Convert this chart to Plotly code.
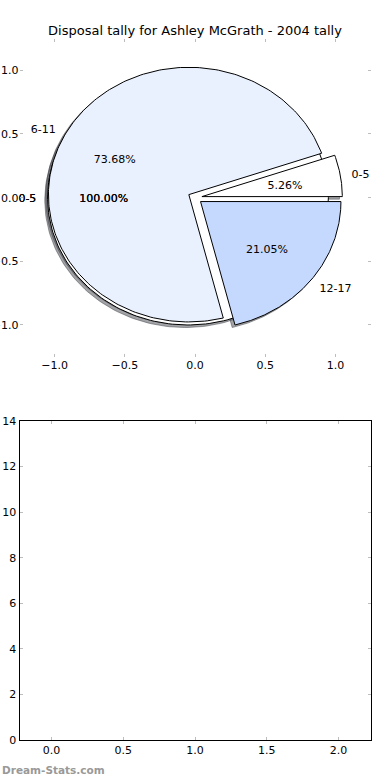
import numpy as np
import plotly.graph_objects as go

# ---------------- data ----------------
chart_title = "Disposal tally for Ashley McGrath - 2004 tally"
slice_labels = ["0-5", "6-11", "12-17"]
slice_values = [1, 14, 4]
slice_colors = ["#FFFFFF", "#E9F0FE", "#C5D8FE"]
overlay_labels = ["0-5"]
overlay_values = [1]
overlay_colors = ["#FFFFFF"]
pie_tick_vals = [-1.0, -0.5, 0.0, 0.5, 1.0]
pie_tick_text = ["\u22121.0", "\u22120.5", "0.0", "0.5", "1.0"]
bottom_x_ticks = [0.0, 0.5, 1.0, 1.5, 2.0]
bottom_y_ticks = [0, 2, 4, 6, 8, 10, 12, 14]
watermark = "Dream-Stats.com"

# ---------------- style ----------------
FONT = "DejaVu Sans"
EXPLODE = 0.05
LABEL_DIST = 1.1
PCT_DIST = 0.6
SHADOW_DX, SHADOW_DY = -0.02, -0.02
TEXT_NUDGE_X = 0.02   # compensate plotly's text gap for side-anchored labels
TEXT_NUDGE_Y = -0.014  # compensate plotly's vertical centering
TICK_GREY = "#bdbdbd"


def pie_geometry(values):
    total = float(sum(values))
    out = []
    start = 0.0
    for v in values:
        frac = v / total
        t1, t2 = 360.0 * start, 360.0 * (start + frac)
        mid = np.radians((t1 + t2) / 2.0)
        cx, cy = EXPLODE * np.cos(mid), EXPLODE * np.sin(mid)
        th = np.radians(np.linspace(t1, t2, 240))
        xs = cx + np.cos(th)
        ys = cy + np.sin(th)
        full = frac >= 0.9999
        if not full:
            xs = np.concatenate([[cx], xs, [cx]])
            ys = np.concatenate([[cy], ys, [cy]])
        out.append(dict(x=xs, y=ys, cx=cx, cy=cy, mid=mid, frac=frac))
        start += frac
    return out


fig = go.Figure()

overlay = pie_geometry(overlay_values)
main = pie_geometry(slice_values)

# shadows (below all wedges)
for w in overlay + main:
    fig.add_trace(go.Scatter(
        x=w["x"] + SHADOW_DX, y=w["y"] + SHADOW_DY, mode="lines", fill="toself",
        fillcolor="rgba(70,72,77,0.5)", line=dict(color="rgba(70,72,77,0.5)", width=1),
        hoverinfo="skip", showlegend=False, xaxis="x", yaxis="y"))

# wedges
for w, col in list(zip(overlay, overlay_colors)) + list(zip(main, slice_colors)):
    fig.add_trace(go.Scatter(
        x=w["x"], y=w["y"], mode="lines", fill="toself", fillcolor=col,
        line=dict(color="black", width=1), hoverinfo="skip", showlegend=False,
        xaxis="x", yaxis="y"))


def add_texts(geo, labels, repeat=1):
    for _ in range(repeat):
        for w, lab in zip(geo, labels):
            lx = w["cx"] + LABEL_DIST * np.cos(w["mid"])
            ly = w["cy"] + LABEL_DIST * np.sin(w["mid"])
            px = w["cx"] + PCT_DIST * np.cos(w["mid"])
            py = w["cy"] + PCT_DIST * np.sin(w["mid"])
            if lx > 0:
                pos, nx = "middle right", -TEXT_NUDGE_X
            else:
                pos, nx = "middle left", TEXT_NUDGE_X
            fig.add_trace(go.Scatter(
                x=[lx + nx], y=[ly + TEXT_NUDGE_Y], mode="text", text=[lab],
                textposition=pos,
                textfont=dict(family=FONT, size=11, color="black"),
                cliponaxis=False, hoverinfo="skip", showlegend=False,
                xaxis="x", yaxis="y"))
            fig.add_trace(go.Scatter(
                x=[px], y=[py + TEXT_NUDGE_Y], mode="text",
                text=["%.2f%%" % (100 * w["frac"])],
                textposition="middle center",
                textfont=dict(family=FONT, size=11, color="black"),
                cliponaxis=False, hoverinfo="skip", showlegend=False,
                xaxis="x", yaxis="y"))


add_texts(overlay, overlay_labels, repeat=2)
add_texts(main, slice_labels)

# empty bottom axes
fig.add_trace(go.Scatter(x=[], y=[], xaxis="x2", yaxis="y2", showlegend=False))

tickfont = dict(family=FONT, size=11, color="black")
common = dict(showgrid=False, zeroline=False, ticks="inside", ticklen=3,
              tickwidth=1, tickcolor=TICK_GREY, tickfont=tickfont, mirror="ticks",
              automargin=False)

fig.update_layout(
    template="none",
    width=390, height=780,
    margin=dict(l=0, r=0, t=0, b=0, pad=0, autoexpand=False),
    paper_bgcolor="white", plot_bgcolor="white",
    showlegend=False,
    title=dict(text=chart_title, x=0.5, xanchor="center", y=1 - 30 / 780,
               yanchor="middle", automargin=False,
               font=dict(family=FONT, size=13, color="black")),
    xaxis=dict(domain=[0.05, 0.95], range=[-1.25, 1.25], anchor="y",
               tickvals=pie_tick_vals, ticktext=pie_tick_text, showline=False,
               **common),
    yaxis=dict(domain=[1 - 356.8 / 780, 1 - 38.5 / 780], range=[-1.25, 1.25],
               anchor="x", tickvals=pie_tick_vals, ticktext=pie_tick_text,
               showline=False, **common),
    xaxis2=dict(domain=[0.05, 0.95], range=[-0.224, 2.224], anchor="y2",
                tickvals=bottom_x_ticks, ticktext=["%.1f" % v for v in bottom_x_ticks],
                showline=True, linecolor="black", linewidth=1, **common),
    yaxis2=dict(domain=[1 - 740 / 780, 1 - 421 / 780], range=[0, 14], anchor="x2",
                tickvals=bottom_y_ticks, ticktext=[str(v) for v in bottom_y_ticks],
                showline=True, linecolor="black", linewidth=1, **common),
    annotations=[dict(text="<b>" + watermark + "</b>", x=0, xref="paper", xanchor="left",
                      y=1 - 770 / 780, yref="paper", yanchor="middle", showarrow=False,
                      font=dict(family=FONT, size=10.5, color="#999999"))],
)

fig.write_html(
    "out.html",
    config={"displayModeBar": False, "staticPlot": True},
    post_script="document.body.style.margin='0';document.body.style.padding='0';",
)
